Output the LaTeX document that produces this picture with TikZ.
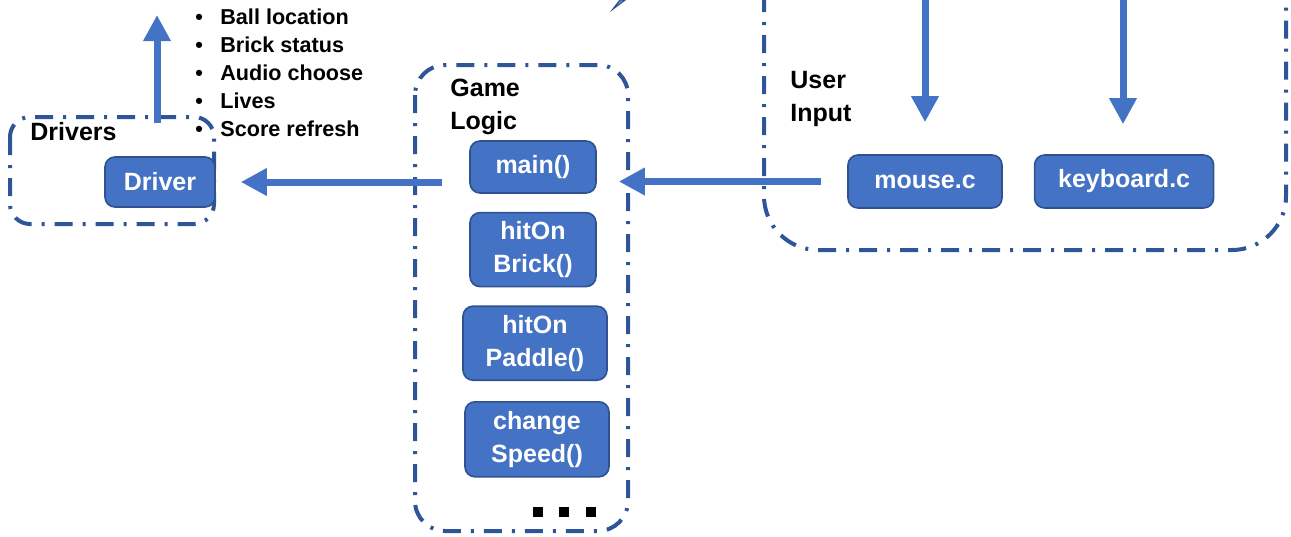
\documentclass[tikz,border=0pt]{standalone}
\usepackage{fontspec}
\setmainfont{Liberation Sans}
\usetikzlibrary{arrows.meta, positioning, calc}
\definecolor{gbBlue}{HTML}{4472C4}
\definecolor{gbLine}{HTML}{2F528F}
\definecolor{gbZone}{HTML}{2E5597}
\tikzset{
  gbnode/.style={
    draw=gbLine, fill=gbBlue, rounded corners=5pt, line width=0.8pt,
    text=white, font=\fontsize{12.5}{16.5}\selectfont\bfseries, align=center, inner sep=0pt
  },
  zone/.style={draw=gbZone, line width=2pt, dash pattern=on 9pt off 5pt on 1.5pt off 5pt},
  zonelabel/.style={font=\fontsize{12.5}{16.5}\selectfont\bfseries, align=left, inner sep=0pt},
  tag/.style={font=\fontsize{10.8}{14}\selectfont\bfseries, align=left, inner sep=0pt, anchor=north west},
  flow/.style={-{Triangle[length=13pt, width=13pt]}, line width=3.5pt, gbBlue},
  moresq/.style={fill=black, minimum size=5pt, inner sep=0pt}
}
\newcommand{\bul}{\makebox[12.5pt][l]{\textbullet}}

\begin{document}
\begin{tikzpicture}[x=0.5pt, y=-0.5pt, node distance=9pt]
  \useasboundingbox (0,0) rectangle (1291,536);

  % groups
  \draw[zone, rounded corners=10pt] (10,117) rectangle (214,224);
  \draw[zone, rounded corners=15pt] (415,65) rectangle (628,531);
  \draw[zone, rounded corners=27pt] (764,-60) rectangle (1286,250);
  \node[zonelabel, anchor=base west] (drvlabel) at (30,140) {Drivers};
  \node[zonelabel, anchor=north west] (gamelabel) at (450,79) {Game\\Logic};
  \node[zonelabel, anchor=north west] (inlabel) at (790,71) {User\\Input};

  % boxes
  \node[gbnode, minimum width=55pt, minimum height=25pt] (driver) at (160,182) {Driver};
  \node[gbnode, minimum width=63pt, minimum height=26pt] (main) at (533,167) {main()};
  \node[gbnode, minimum width=63pt, minimum height=37pt, below=of main] (brick) {hitOn\\Brick()};
  \node[gbnode, minimum width=72pt, minimum height=37pt, below=of brick, xshift=1pt] (paddle) {hitOn\\Paddle()};
  \node[gbnode, minimum width=72pt, minimum height=37.5pt, below=10pt of paddle, xshift=1pt] (speed) {change\\Speed()};
  \node[gbnode, minimum width=77pt, minimum height=26.5pt] (mouse) at (925,181.5) {mouse.c};
  \node[gbnode, minimum width=89.5pt, minimum height=26.5pt, right=15.5pt of mouse] (keyboard) {keyboard.c};
  \node[moresq] (more1) at (538,512) {};
  \node[moresq] (more2) at (564,512) {};
  \node[moresq] (more3) at (591,512) {};

  % outputs of the driver
  \node[tag] (outlist) at (195,8) {\bul Ball location\\\bul Brick status\\\bul Audio choose\\\bul Lives\\\bul Score refresh};

  % arrows
  \coordinate (drvout) at (157,15);
  \coordinate (mousein) at (925,-10);
  \coordinate (keyin) at (1123,-10);
  \draw[flow, shorten <=16.5pt] (driver.north -| drvout) -- (drvout);
  \draw[flow, shorten <=13.5pt, shorten >=12.5pt] (main.west |- driver.east) -- (driver.east);
  \draw[flow, shorten <=13pt, shorten >=11pt] (mouse.west) -- (mouse.west -| main.east);
  \draw[flow, shorten >=16pt] (mousein) -- (mousein |- mouse.north);
  \draw[flow, shorten >=15pt] (keyin) -- (keyin |- keyboard.north);
  \filldraw[fill=gbBlue!70, draw=gbLine, line width=0.6pt] (613,9) -- (620,0) -- (625,0) -- cycle;
\end{tikzpicture}
\end{document}
